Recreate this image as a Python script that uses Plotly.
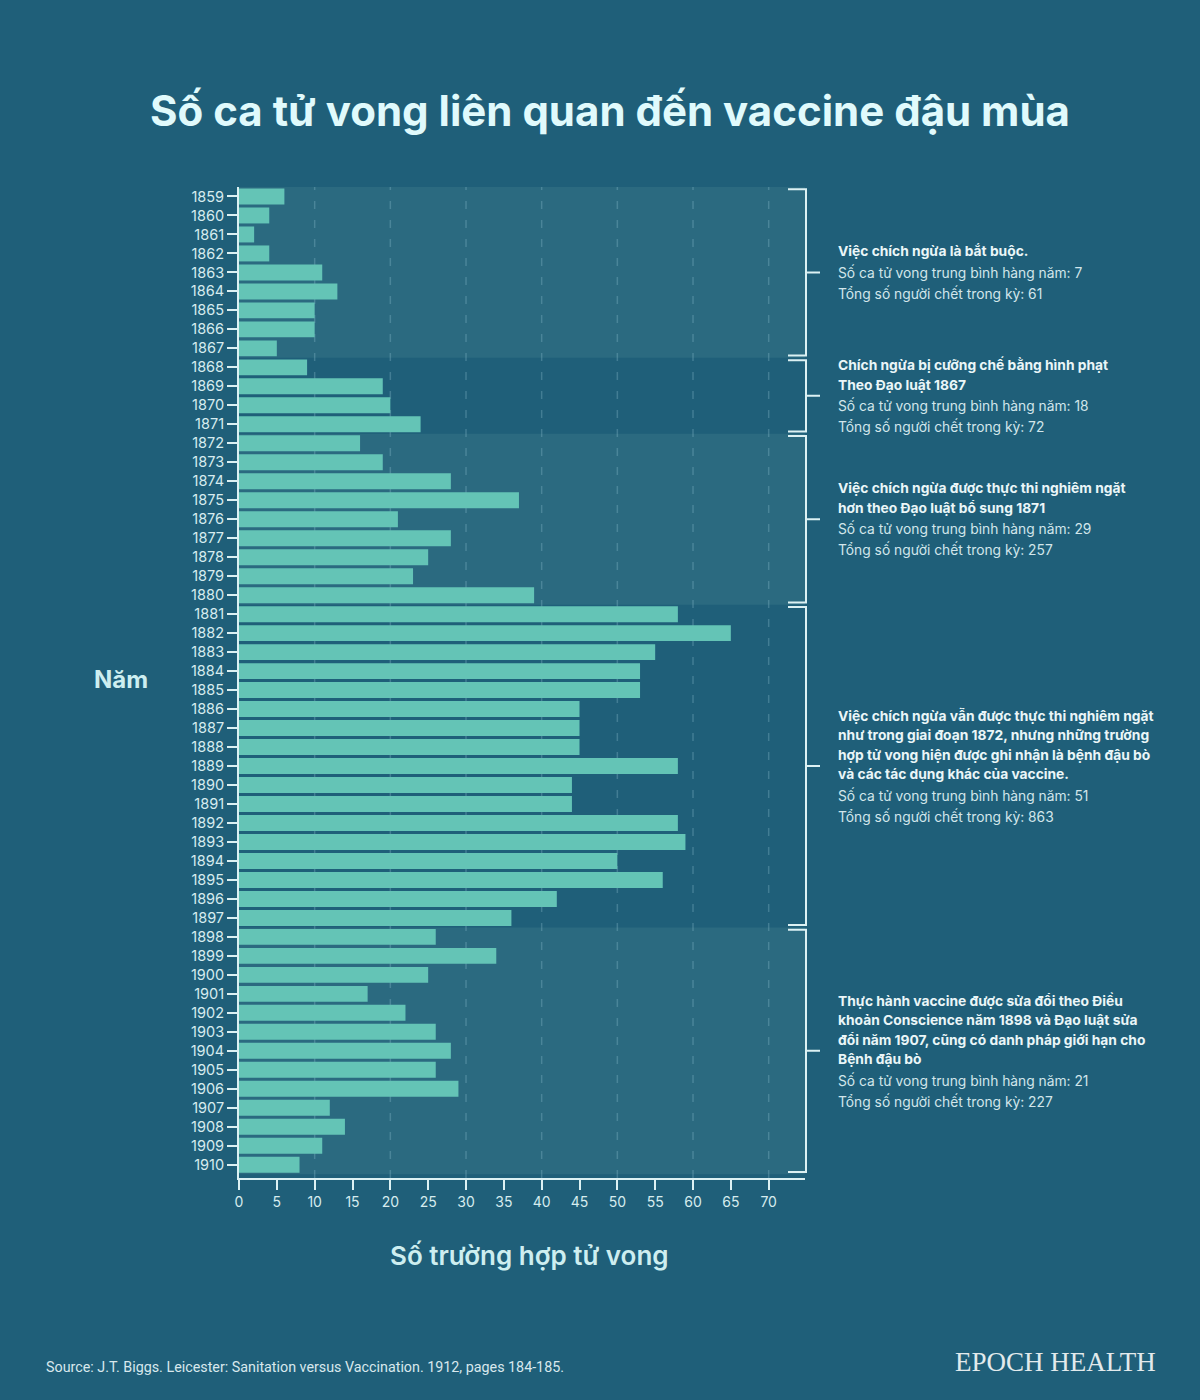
import plotly.graph_objects as go

# ---------------- data ----------------
YEARS = list(range(1859, 1911))
DEATHS = [
    6, 4, 2, 4, 11, 13, 10, 10, 5,          # 1859-1867
    9, 19, 20, 24,                          # 1868-1871
    16, 19, 28, 37, 21, 28, 25, 23, 39,     # 1872-1880
    58, 65, 55, 53, 53, 45, 45, 45, 58, 44, 44, 58, 59, 50, 56, 42, 36,  # 1881-1897
    26, 34, 25, 17, 22, 26, 28, 26, 29, 12, 14, 11, 8,                   # 1898-1910
]
X_TICKS = list(range(0, 75, 5))
GRID_VALUES = [10, 20, 30, 40, 50, 60, 70]

PERIOD_START = [1859, 1868, 1872, 1881, 1898]
PERIOD_END = [1867, 1871, 1880, 1897, 1910]
PERIOD_HEADINGS = [
    ["Việc chích ngừa là bắt buộc."],
    ["Chích ngừa bị cưỡng chế bằng hình phạt", "Theo Đạo luật 1867"],
    ["Việc chích ngừa được thực thi nghiêm ngặt", "hơn theo Đạo luật bổ sung 1871"],
    ["Việc chích ngừa vẫn được thực thi nghiêm ngặt",
     "như trong giai đoạn 1872, nhưng những trường",
     "hợp tử vong hiện được ghi nhận là bệnh đậu bò",
     "và các tác dụng khác của vaccine."],
    ["Thực hành vaccine được sửa đổi theo Điều",
     "khoản Conscience năm 1898 và Đạo luật sửa",
     "đổi năm 1907, cũng có danh pháp giới hạn cho",
     "Bệnh đậu bò"],
]
PERIOD_AVG = [7, 18, 29, 51, 21]
PERIOD_TOTAL = [61, 72, 257, 863, 227]

TITLE = "Số ca tử vong liên quan đến vaccine đậu mùa"
Y_TITLE = "Năm"
X_TITLE = "Số trường hợp tử vong"
SOURCE = "Source: J.T. Biggs. Leicester: Sanitation versus Vaccination. 1912, pages 184-185."
BRAND = "EPOCH HEALTH"

# ---------------- style ----------------
W, H = 1200, 1400
L, R, T, B = 239, 805, 186.5, 1178
BG = "#1f5f79"
BAND = "#2b6a80"
BAR = "#64c4b6"
LINE = "#dcf1f3"
TXT = "#d6ecef"
FONT = "Inter"


def px(x):
    return (x - L) / (R - L)


def py(y):
    return (B - y) / (B - T)


fig = go.Figure()
fig.add_trace(go.Bar(
    x=DEATHS, y=YEARS, orientation="h",
    marker=dict(color=BAR, line=dict(width=0)),
    hoverinfo="x+y",
))

shapes = []
# alternating period bands
for i, (s, e) in enumerate(zip(PERIOD_START, PERIOD_END)):
    if i % 2 == 0:
        shapes.append(dict(type="rect", xref="paper", yref="y", x0=0, x1=1,
                           y0=s - 0.5, y1=e + 0.5, fillcolor=BAND,
                           line=dict(width=0), layer="below"))
# dashed grid lines
for g in GRID_VALUES:
    shapes.append(dict(type="line", xref="x", yref="paper", x0=g, x1=g, y0=0, y1=1,
                       line=dict(color="rgba(140,190,205,0.32)", width=1.5, dash="8px,11px"),
                       layer="below"))
# brackets
xl, xr, xt = px(788), px(806), px(820)
for s, e in zip(PERIOD_START, PERIOD_END):
    top, bot, mid = s - 0.5 + 0.12, e + 0.5 - 0.12, (s + e) / 2
    path = (f"M {xl},{top} L {xr},{top} L {xr},{bot} L {xl},{bot} "
            f"M {xr},{mid} L {xt},{mid}")
    shapes.append(dict(type="path", xref="paper", yref="y", path=path,
                       line=dict(color=LINE, width=2)))

annotations = []
# period annotations, line by line
HEAD_SP, GAP_SP, STAT_SP = 19.5, 21, 21
for i, (s, e) in enumerate(zip(PERIOD_START, PERIOD_END)):
    lines = [(t, True) for t in PERIOD_HEADINGS[i]]
    lines.append((f"Số ca tử vong trung bình hàng năm: {PERIOD_AVG[i]}", False))
    lines.append((f"Tổng số người chết trong kỳ: {PERIOD_TOTAL[i]}", False))
    offs = [0.0]
    for k in range(1, len(lines)):
        if lines[k][1]:
            sp = HEAD_SP
        elif lines[k - 1][1]:
            sp = GAP_SP
        else:
            sp = STAT_SP
        offs.append(offs[-1] + sp)
    center = offs[-1] / 2
    for (t, bold), o in zip(lines, offs):
        annotations.append(dict(
            xref="paper", yref="y", x=px(836), y=(s + e) / 2, yshift=-(o - center),
            xanchor="left", yanchor="middle", showarrow=False,
            text=f"<b>{t}</b>" if bold else t,
            font=dict(family=FONT, size=13.8,
                      color="#eaf6f8" if bold else "#d2e6eb"),
        ))

annotations += [
    dict(xref="paper", yref="paper", x=px(121), y=py(679), text=f"<b>{Y_TITLE}</b>",
         showarrow=False, xanchor="center", yanchor="middle",
         font=dict(family=FONT, size=24, color="#cdeef0")),
    dict(xref="paper", yref="paper", x=px(529), y=py(1256), text=X_TITLE,
         showarrow=False, xanchor="center", yanchor="middle",
         font=dict(family=FONT, size=26, color="#cdeef0", weight=600)),
    dict(xref="paper", yref="paper", x=px(44), y=py(1367), text=SOURCE,
         showarrow=False, xanchor="left", yanchor="middle",
         font=dict(family="Roboto", size=14.3, color="#d8e8ed")),
    dict(xref="paper", yref="paper", x=px(1158), y=py(1362), text=BRAND,
         showarrow=False, xanchor="right", yanchor="middle",
         font=dict(family="Liberation Serif", size=27, color="#e2eaec")),
]

fig.update_layout(
    width=W, height=H,
    paper_bgcolor=BG, plot_bgcolor=BG,
    margin=dict(l=L, r=W - R, t=T, b=H - B, pad=0),
    showlegend=False,
    bargap=0.16,
    title=dict(text=TITLE, x=610 / W, xanchor="center", y=1 - 111 / H, yanchor="middle",
               font=dict(family=FONT, size=42, color="#e0fafc", weight=700)),
    font=dict(family=FONT, color=TXT),
    shapes=shapes,
    annotations=annotations,
)
fig.update_xaxes(
    range=[0, 74.8], tickvals=X_TICKS, showgrid=False, zeroline=False,
    showline=True, linecolor=LINE, linewidth=2,
    ticks="outside", ticklen=10, tickwidth=2, tickcolor=LINE,
    tickfont=dict(family=FONT, size=14, color=TXT), automargin=False,
)
fig.update_yaxes(
    range=[1910.7, 1858.5], tickvals=YEARS, showgrid=False, zeroline=False,
    showline=True, linecolor=LINE, linewidth=2,
    ticks="outside", ticklen=10, tickwidth=2, tickcolor=LINE,
    tickfont=dict(family=FONT, size=14.5, color=TXT), automargin=False,
)

fig.write_html(
    "out.html",
    config={"displayModeBar": False},
    post_script="document.body.style.margin='0';document.body.style.background='" + BG + "';",
)
